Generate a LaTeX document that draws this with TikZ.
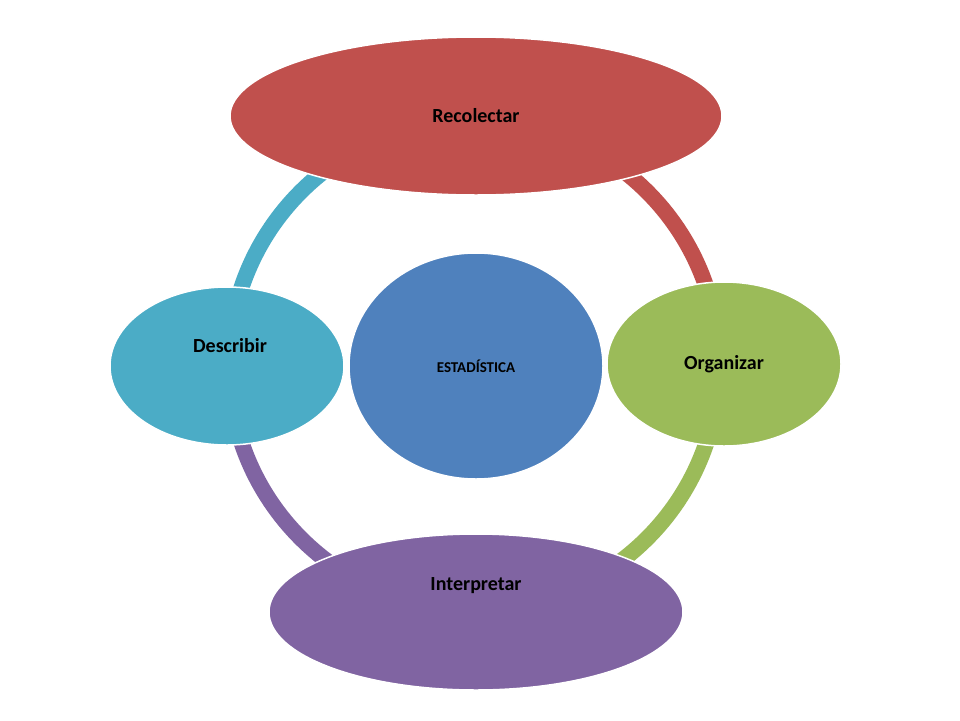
\documentclass[tikz,border=0pt]{standalone}
\usepackage{fontspec}
\setmainfont{Carlito}
\usetikzlibrary{shapes.geometric}
\definecolor{cred}{HTML}{C0504D}
\definecolor{cgreen}{HTML}{9BBB59}
\definecolor{cpurple}{HTML}{8064A2}
\definecolor{ccyan}{HTML}{4BACC6}
\definecolor{cblue}{HTML}{4F81BD}
\begin{document}
\begin{tikzpicture}[x=1pt,y=-1pt,
  ring/.style={line width=16pt},
  el/.style={ellipse,draw=white,line width=1.5pt,font=\bfseries\fontsize{20}{24}\selectfont,text=black,inner sep=0pt}]
\useasboundingbox (0,0) rectangle (960,720);
\coordinate (c) at (474,365);
\draw[ring,cred] (c) ++(0:245) arc[start angle=0,end angle=-90,radius=245];
\draw[ring,cgreen] (c) ++(0:245) arc[start angle=0,end angle=90,radius=245];
\draw[ring,cpurple] (c) ++(90:245) arc[start angle=90,end angle=180,radius=245];
\draw[ring,ccyan] (c) ++(180:245) arc[start angle=180,end angle=270,radius=245];
\node[el,fill=cred,minimum width=492pt,minimum height=158pt] (rec) at (476,116) {Recolectar};
\node[el,fill=cgreen,minimum width=234pt,minimum height=164pt] (org) at (724,364) {Organizar};
\node[el,fill=cpurple,minimum width=414pt,minimum height=156pt] (int) at (476,612) {};
\node at (476,586) {\bfseries\fontsize{20}{24}\selectfont Interpretar};
\node[el,fill=ccyan,minimum width=234pt,minimum height=158pt] (des) at (227,366) {};
\node at (230,346) {\bfseries\fontsize{20}{24}\selectfont Describir};
\node[el,fill=cblue,minimum width=254pt,minimum height=226pt,font=\bfseries\fontsize{15}{18}\selectfont] (est) at (476,366) {ESTADÍSTICA};
\end{tikzpicture}
\end{document}
